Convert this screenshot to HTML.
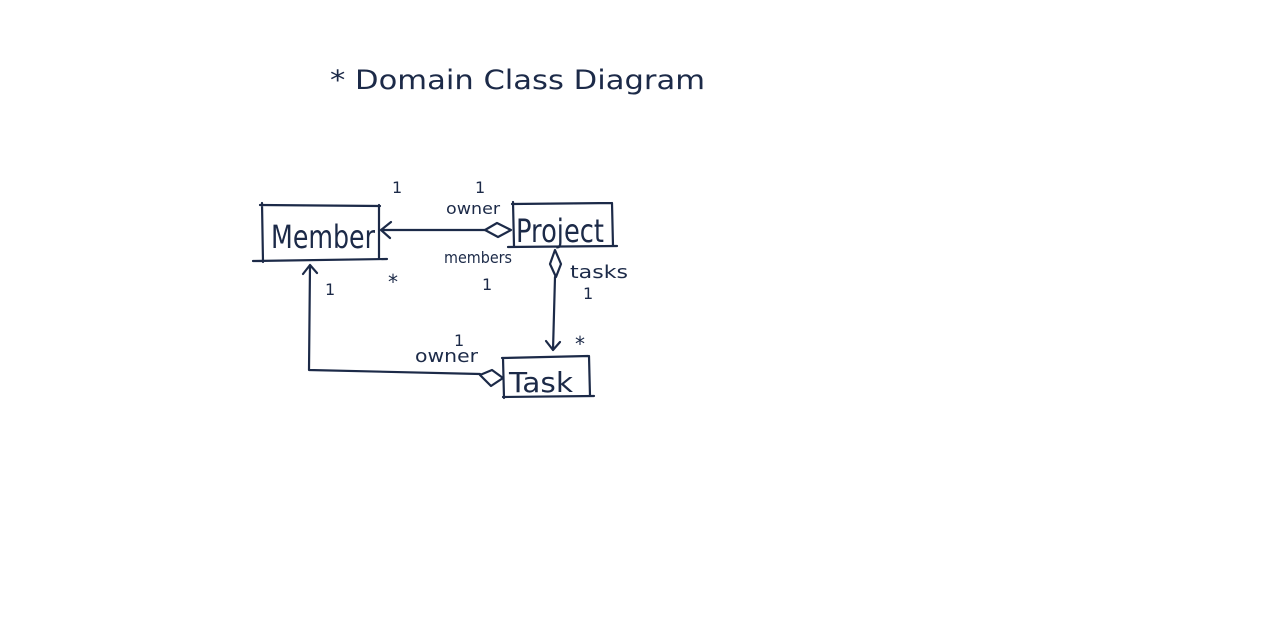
<!DOCTYPE html>
<html><head><style>
html,body{margin:0;padding:0;background:#fff;}
svg{display:block}
text{font-family:"DejaVu Sans","Liberation Sans",sans-serif;fill:#1c2a48;}
</style></head><body>
<svg width="1280" height="635" viewBox="0 0 1280 635" xmlns="http://www.w3.org/2000/svg">
<g stroke="#1c2a48" stroke-width="2.2" fill="none" stroke-linecap="round" stroke-linejoin="round">
<!-- Member box -->
<path d="M262 203 L263 262 M260 205 L380 206 M379 205 L379 258 M253 261 L387 259"/>
<!-- Project box -->
<path d="M513 202 L514 246 M512 204 L612 203 M612 203 L613 246 M508 247 L617 246"/>
<!-- Task box -->
<path d="M503 358 L504 398 M502 358 L588 356 M589 356 L590 396 M503 397 L594 396"/>
<!-- Member-Project -->
<path d="M381 230 L485 230 M381 230 L391 222 M381 230 L390 238"/>
<path d="M485 230 L497 223 L511 230 L498 237 Z"/>
<!-- Project-Task -->
<path d="M555 250 L561 264 L556 277 L550 264 Z"/>
<path d="M555 277 L553 350 M553 350 L546 341 M553 350 L560 342"/>
<!-- Member-Task -->
<path d="M310 265 L309 370 L480 374 M310 265 L303 274 M310 265 L317 273"/>
<path d="M480 375 L492 370 L503 378 L491 386 Z"/>
</g>
<text x="330" y="89" font-size="27" textLength="375" lengthAdjust="spacingAndGlyphs">* Domain Class  Diagram</text>
<text x="271" y="248" font-size="32" textLength="104" lengthAdjust="spacingAndGlyphs">Member</text>
<text x="516" y="242" font-size="32" textLength="88" lengthAdjust="spacingAndGlyphs">Project</text>
<text x="509" y="392" font-size="28" textLength="64" lengthAdjust="spacingAndGlyphs">Task</text>
<g font-size="16">
<text x="392" y="193">1</text>
<text x="475" y="193">1</text>
<text x="446" y="214" textLength="54" lengthAdjust="spacingAndGlyphs">owner</text>
<text x="444" y="263" textLength="68" lengthAdjust="spacingAndGlyphs">members</text>
<text x="388" y="289" font-size="20">*</text>
<text x="482" y="290">1</text>
<text x="570" y="278" font-size="18" textLength="58" lengthAdjust="spacingAndGlyphs">tasks</text>
<text x="583" y="299">1</text>
<text x="575" y="351" font-size="20">*</text>
<text x="454" y="346">1</text>
<text x="415" y="362" font-size="18" textLength="63" lengthAdjust="spacingAndGlyphs">owner</text>
<text x="325" y="295">1</text>
</g>
</svg>
</body></html>
